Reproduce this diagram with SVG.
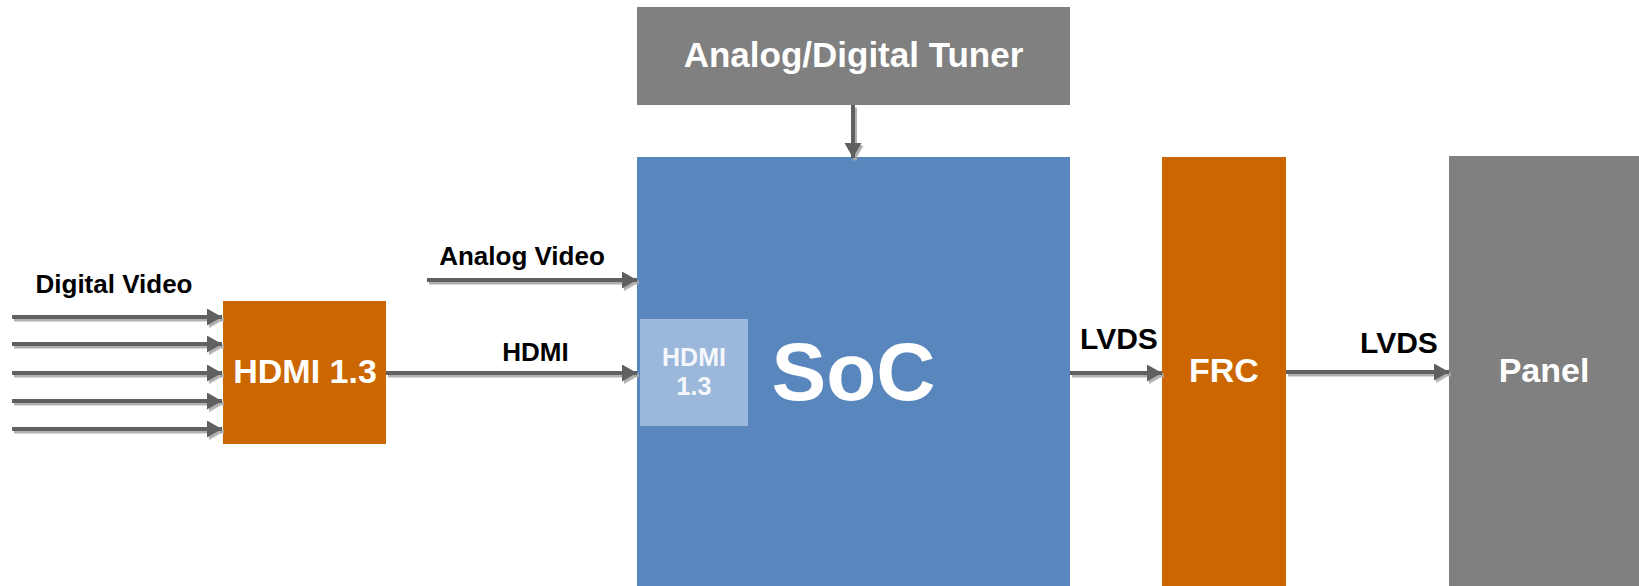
<svg xmlns="http://www.w3.org/2000/svg" width="1639" height="586" viewBox="0 0 1639 586">
  <style>
    text { font-family: "Liberation Sans", Arial, sans-serif; font-weight: bold; text-anchor: middle; }
    .lbl { fill: #000; font-size: 26px; }
    .lvds { fill: #000; font-size: 30px; }
    .in { fill: #fff; font-size: 34px; }
    .conn { fill: none; stroke: #606060; stroke-width: 4; marker-end: url(#head); }
    .gray { fill: #808080; }
    .orange { fill: #cc6600; }
    .blue { fill: #5886bd; }
  </style>
  <defs>
    <marker id="head" markerUnits="userSpaceOnUse" markerWidth="16" markerHeight="18" refX="15" refY="8.5" orient="auto">
      <path d="M0,0 L15,8.5 L0,17 Z" fill="#606060"/>
    </marker>
    <filter id="shadow" x="-5%" y="-20%" width="110%" height="140%">
      <feDropShadow dx="2" dy="2.5" stdDeviation="0.6" flood-color="#a8a8a8" flood-opacity="0.9"/>
    </filter>
  </defs>

  <rect width="1639" height="586" fill="#fff"/>

  <g id="tuner">
    <rect class="gray" x="637" y="7" width="433" height="98"/>
    <text x="853.5" y="67" font-size="35" fill="#fff">Analog/Digital Tuner</text>
  </g>

  <g id="soc">
    <rect class="blue" x="637" y="157" width="433" height="429"/>
    <rect x="640" y="319" width="108" height="107" fill="#9bb7d9"/>
    <text x="694" y="366" font-size="25" fill="#f4f7fb">HDMI</text>
    <text x="694" y="395" font-size="25" fill="#f4f7fb">1.3</text>
    <text x="853.5" y="400" font-size="82" fill="#fff">SoC</text>
  </g>

  <g id="hdmi-rx">
    <rect class="orange" x="223" y="301" width="163" height="143"/>
    <text class="in" x="305" y="383">HDMI 1.3</text>
  </g>

  <g id="frc">
    <rect class="orange" x="1162" y="157" width="124" height="429"/>
    <text class="in" x="1224" y="382">FRC</text>
  </g>

  <g id="panel">
    <rect class="gray" x="1449" y="156" width="190" height="430"/>
    <text class="in" x="1544" y="382">Panel</text>
  </g>

  <g id="connectors" filter="url(#shadow)">
    <path class="conn" d="M12,317 H222"/>
    <path class="conn" d="M12,344 H222"/>
    <path class="conn" d="M12,373 H222"/>
    <path class="conn" d="M12,401 H222"/>
    <path class="conn" d="M12,429 H222"/>
    <path class="conn" d="M386,373 H637"/>
    <path class="conn" d="M427,280 H637"/>
    <path class="conn" d="M853,105 V158"/>
    <path class="conn" d="M1070,373 H1162"/>
    <path class="conn" d="M1286,372 H1449"/>
  </g>

  <g id="labels">
    <text class="lbl" x="114" y="293">Digital Video</text>
    <text class="lbl" x="522" y="265">Analog Video</text>
    <text class="lbl" x="535.5" y="361">HDMI</text>
    <text class="lvds" x="1119" y="349">LVDS</text>
    <text class="lvds" x="1399" y="353">LVDS</text>
  </g>
</svg>
